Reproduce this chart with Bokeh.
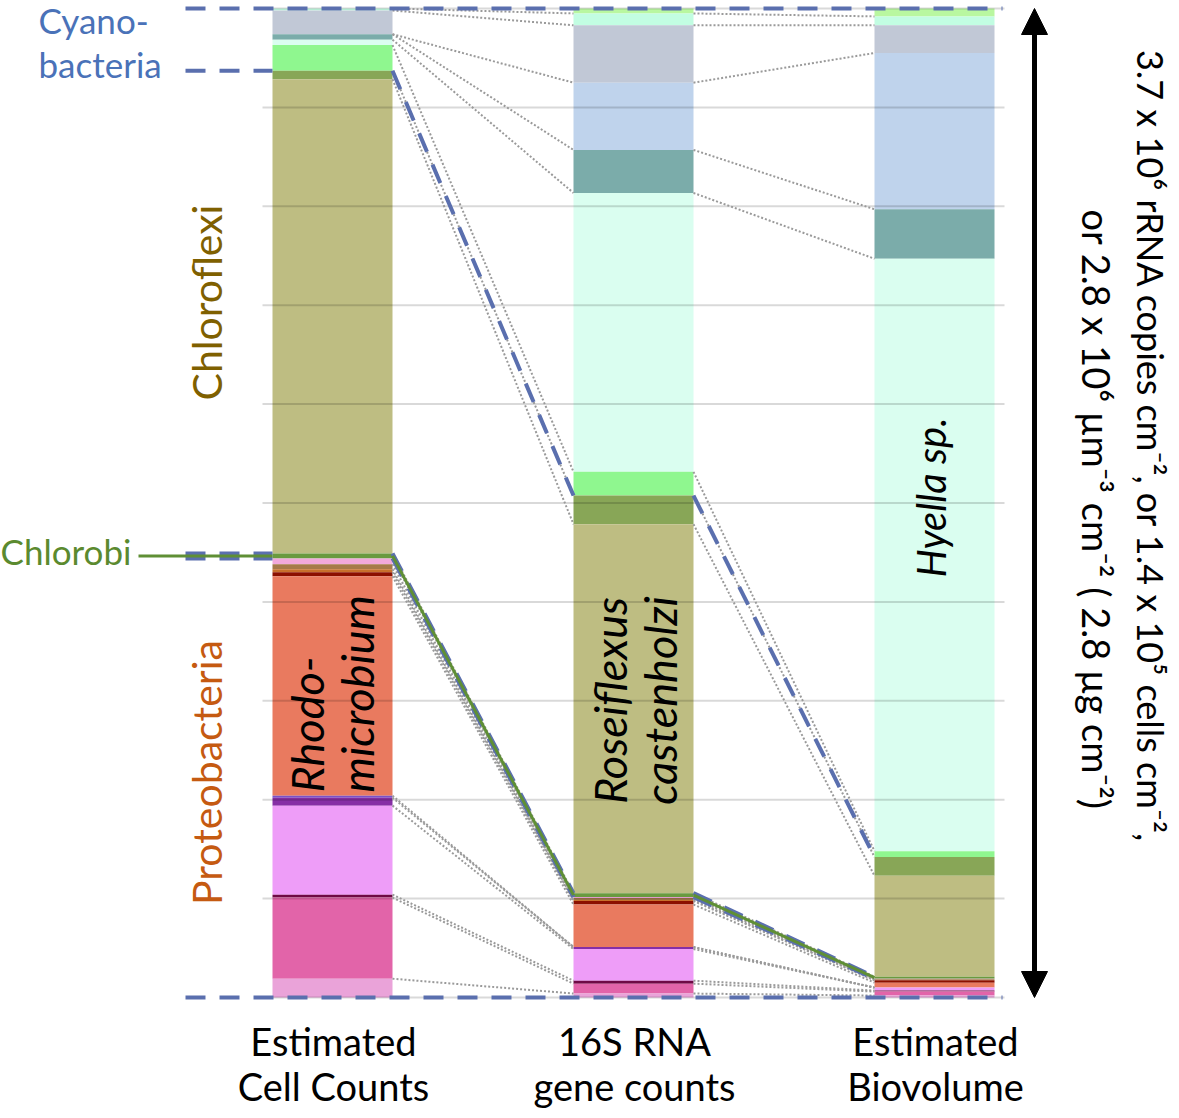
import numpy as np
from bokeh.plotting import figure
from bokeh.models import Range1d, Arrow, NormalHead
from bokeh.core.properties import value
from bokeh.embed import file_html
from bokeh.resources import INLINE

# ---------------- data (percent of each column, listed top to bottom) ----------------
taxa = ["Cyano A", "Cyano B", "Cyano C", "Cyano D", "Cyano E", "Hyella sp.", "Cyano G",
        "Chloroflexi A", "Roseiflexus castenholzi", "Chlorobi",
        "Proteo A", "Proteo B", "Proteo C", "Proteo D", "Rhodomicrobium", "Proteo F",
        "Proteo G", "Proteo H", "Proteo I", "Proteo J", "Proteo K"]
phylum = ["Cyanobacteria"] * 7 + ["Chloroflexi"] * 2 + ["Chlorobi"] + ["Proteobacteria"] * 11
colors = ["#b9f7a0", "#c2fde2", "#c1c8d6", "#bfd3ec", "#7bacaa", "#dafef0", "#8ff78f",
          "#88a657", "#bebd82", "#6a9a3f",
          "#f2a9dc", "#a67a4a", "#c8702c", "#8c1000", "#e97a5f", "#7a52c8",
          "#862fa5", "#ee9df8", "#6f0a45", "#e264a9", "#eaa3d9"]
cell_counts = [0.0, 0.2, 2.4, 0.0, 0.55, 0.55, 2.6, 0.85, 47.95, 0.5,
               0.6, 0.5, 0.3, 0.4, 22.2, 0.2, 0.8, 9.0, 0.3, 8.2, 1.9]
rrna_counts = [0.5, 1.2, 5.8, 6.8, 4.35, 28.2, 2.4, 2.9, 37.3, 0.4,
               0.1, 0.2, 0.1, 0.35, 4.3, 0.0, 0.2, 3.2, 0.3, 1.0, 0.4]
biovolume = [0.8, 0.9, 2.8, 15.8, 5.0, 59.9, 0.6, 1.9, 10.2, 0.2,
             0.05, 0.1, 0.0, 0.25, 0.5, 0.0, 0.0, 0.3, 0.1, 0.4, 0.2]
bar_labels = [["Estimated", "Cell Counts"], ["16S RNA", "gene counts"], ["Estimated", "Biovolume"]]
grid_ticks = list(range(0, 101, 10))
phylum_labels = ["Cyano-", "bacteria", "Chloroflexi", "Chlorobi", "Proteobacteria"]
species_labels = [["Rhodo-", "microbium"], ["Roseiflexus", "castenholzi"], ["Hyella sp."]]
total_lines = ["3.7 x 10\u2076 rRNA copies cm\u207b\u00b2, or 1.4 x 10\u2075 cells cm\u207b\u00b2,",
               "or  2.8 x 10\u2076 \u00b5m\u207b\u00b3 cm\u207b\u00b2 ( 2.8 \u00b5g cm\u207b\u00b2)"]

# ---------------- layout ----------------
W, H = 1171, 1110
Y0_PX, PX_PER_PCT = 997.0, 9.89


def py(ref_y):
    return (Y0_PX - ref_y) / PX_PER_PCT


FONT = value("Lato")
p = figure(width=W, height=H, x_range=Range1d(0, W), y_range=Range1d(py(H), py(0)),
           min_border=0, toolbar_location=None, output_backend="svg",
           x_axis_location=None, y_axis_location=None)
p.grid.visible = False
p.outline_line_color = None

centers = [332, 633, 934]
BW = 120
series = [cell_counts, rrna_counts, biovolume]

tops, bottoms = [], []
for vals in series:
    arr = np.array(vals, dtype=float)
    top = np.cumsum(arr[::-1])[::-1]
    tops.append(top)
    bottoms.append(top - arr)

for c, top, bot in zip(centers, tops, bottoms):
    p.quad(left=c - BW / 2, right=c + BW / 2, top=top, bottom=bot,
           fill_color=colors, line_color=None)

# gridlines (over the bars, translucent)
p.segment(x0=262, x1=1004, y0=grid_ticks, y1=grid_ticks, line_color="black",
          line_alpha=0.15, line_width=2)

# dotted connectors for every internal boundary
for i in range(2):
    b0 = bottoms[i][:-1]
    b1 = bottoms[i + 1][:-1]
    p.segment(x0=centers[i] + BW / 2, y0=b0, x1=centers[i + 1] - BW / 2, y1=b1,
              line_color="#9a9a9a", line_width=2, line_dash="2 2")

# phylum boundaries (dashed)
DASH_COLOR = "#5a6fae"
phy_idx = [k for k in range(len(phylum) - 1) if phylum[k] != phylum[k + 1]]
for lvl in [0, 100]:
    p.line(x=[185, 1002], y=[lvl, lvl], line_color=DASH_COLOR, line_width=4, line_dash="20 14")
for k in phy_idx:
    p.line(x=[185, centers[0] - BW / 2], y=[bottoms[0][k]] * 2, line_color=DASH_COLOR,
           line_width=4, line_dash="20 14")
    for i in range(2):
        p.line(x=[centers[i] + BW / 2, centers[i + 1] - BW / 2],
               y=[bottoms[i][k], bottoms[i + 1][k]], line_color=DASH_COLOR,
               line_width=4, line_dash="20 14")

# Chlorobi solid line
ci = phylum.index("Chlorobi")
mids = [(t[ci] + b[ci]) / 2 for t, b in zip(tops, bottoms)]
p.line(x=[138, centers[0] - BW / 2], y=[mids[0]] * 2, line_color="#5f8f35", line_width=3)
for i in range(2):
    p.line(x=[centers[i] + BW / 2, centers[i + 1] - BW / 2], y=[mids[i], mids[i + 1]],
           line_color="#5f8f35", line_width=3)

# phylum labels
p.text(x=[38, 38], y=[py(19), py(63)], text=phylum_labels[:2], text_font=FONT,
       text_font_size="35px", text_color="#4a72b8", text_baseline="middle")
p.text(x=[0], y=[py(550)], text=[phylum_labels[3]], text_font=FONT,
       text_font_size="35px", text_color="#5b8a2f", text_baseline="middle")
p.text(x=[206], y=[py(302)], text=[phylum_labels[2]], angle=np.pi / 2, text_font=FONT,
       text_font_size="41px", text_color="#7f6000", text_align="center", text_baseline="middle")
p.text(x=[206], y=[py(772)], text=[phylum_labels[4]], angle=np.pi / 2, text_font=FONT,
       text_font_size="41px", text_color="#c55a11", text_align="center", text_baseline="middle")

# species labels (italic, rotated)
p.text(x=[306, 356], y=[py(792), py(792)], text=species_labels[0], angle=np.pi / 2,
       text_font=FONT, text_font_style="italic", text_font_size="45px", text_color="black",
       text_align="left", text_baseline="middle")
p.text(x=[609, 659], y=[py(700), py(700)], text=species_labels[1], angle=np.pi / 2,
       text_font=FONT, text_font_style="italic", text_font_size="45px", text_color="black",
       text_align="center", text_baseline="middle")
p.text(x=[930], y=[py(497)], text=species_labels[2], angle=np.pi / 2,
       text_font=FONT, text_font_style="italic", text_font_size="40px", text_color="black",
       text_align="center", text_baseline="middle")

# category labels
for c, lines in zip(centers, bar_labels):
    p.text(x=[c + 1, c + 1], y=[py(1040), py(1085)], text=lines, text_font=FONT,
           text_font_size="38px", text_color="black", text_align="center",
           text_baseline="middle")

# right arrow and totals
arrow = Arrow(start=NormalHead(size=26, fill_color="black", line_color="black"),
              end=NormalHead(size=26, fill_color="black", line_color="black"),
              x_start=1034, y_start=0, x_end=1034, y_end=100,
              line_width=5, line_color="black")
p.add_layout(arrow)
p.text(x=[1150], y=[py(446)], text=total_lines[:1], angle=-np.pi / 2,
       text_font=FONT, text_font_size="36px", text_color="black", text_align="center",
       text_baseline="middle")
p.text(x=[1096], y=[py(514)], text=total_lines[1:], angle=-np.pi / 2,
       text_font=FONT, text_font_size="38px", text_color="black", text_align="center",
       text_baseline="middle")

open("out.html", "w").write(file_html(p, INLINE))
